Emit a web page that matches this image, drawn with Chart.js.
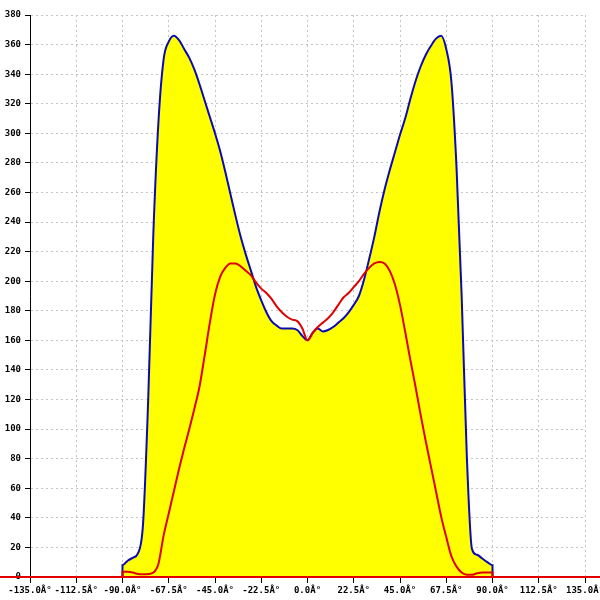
<!DOCTYPE html>
<html>
<head>
<meta charset="utf-8">
<script src="https://cdn.jsdelivr.net/npm/chart.js@4.4.1/dist/chart.umd.min.js"></script>
<style>
  html, body { margin: 0; padding: 0; background: #fff; }
</style>
</head>
<body>
<canvas id="myChart" width="600" height="600"></canvas>
<script>
// angles (degrees); -90 and 90 appear twice for the vertical edges
const angles = [-135, -90,
  -90, -87.5, -85, -82.5, -80, -77.5, -75, -72.5, -70, -67.5, -65, -62.5,
  -60, -57.5, -55, -52.5, -50, -47.5, -45, -42.5, -40, -37.5, -35, -32.5,
  -30, -27.5, -25, -22.5, -20, -17.5, -15, -12.5, -10, -7.5, -5, -2.5,
  0, 2.5, 5, 7.5, 10, 12.5, 15, 17.5, 20, 22.5, 25, 27.5,
  30, 32.5, 35, 37.5, 40, 42.5, 45, 47.5, 50, 52.5, 55, 57.5,
  60, 62.5, 65, 67.5, 70, 72.5, 75, 77.5, 80, 82.5, 85, 87.5, 90,
  90, 135];

const blueValues = [0, 0,
  8, 11, 13, 16, 36, 120, 232, 308, 350, 362, 366, 363,
  357, 351, 343, 333, 322, 311, 300, 288, 274, 259, 244, 230,
  218, 207, 196, 187, 179, 173, 170, 168, 168, 168, 167, 163,
  160, 165, 168, 166, 167, 169, 172, 175, 179, 184, 190, 201,
  215, 230, 247, 262, 275, 287, 299, 310, 323, 335, 345, 353,
  359, 364, 366, 357, 335, 277, 190, 82, 19, 15, 12.5, 10, 8,
  0, 0];

const redValues = [0, 0,
  3.5, 3.5, 3, 2, 1.8, 2, 3, 9, 28, 43, 58, 73,
  87, 100, 114, 129, 150, 172, 191, 203, 209, 212, 212, 210,
  207, 204, 199, 195, 192, 188, 183, 179, 176, 174, 173, 168,
  160, 165, 169, 172, 175, 179, 184, 189, 192, 196, 200, 205,
  209, 212, 213, 212, 207, 198, 184, 166, 147, 129, 110, 92,
  75, 58, 41, 27, 14, 7, 3, 1.5, 1.5, 2.5, 3, 3, 3,
  0, 0];

const xTickValues = [-135, -112.5, -90, -67.5, -45, -22.5, 0, 22.5, 45, 67.5, 90, 112.5, 135];

const toPoints = (vals) => vals.map((v, i) => ({ x: angles[i], y: v }));

// red baseline across the whole width, over the axis labels
const baseline = {
  id: 'baseline',
  afterDraw(chart) {
    const ctx = chart.ctx;
    const y0 = chart.scales.y.getPixelForValue(0);
    ctx.save();
    ctx.strokeStyle = '#e00000';
    ctx.lineWidth = 2;
    ctx.beginPath();
    ctx.moveTo(0, y0);
    ctx.lineTo(chart.width, y0);
    ctx.stroke();
    ctx.restore();
  }
};

Chart.defaults.font.family = 'DejaVu Sans Mono';
Chart.defaults.font.size = 9;
Chart.defaults.font.weight = 'bold';
Chart.defaults.color = '#000';

const ctx = document.getElementById('myChart').getContext('2d');
new Chart(ctx, {
  type: 'line',
  data: {
    datasets: [
      {
        data: toPoints(redValues),
        borderColor: '#e00000',
        borderWidth: 2,
        pointRadius: 0,
        fill: false,
        cubicInterpolationMode: 'monotone'
      },
      {
        data: toPoints(blueValues),
        borderColor: '#0a0ab4',
        backgroundColor: '#ffff00',
        borderWidth: 2,
        pointRadius: 0,
        fill: 'origin',
        cubicInterpolationMode: 'monotone'
      }
    ]
  },
  options: {
    responsive: false,
    animation: false,
    devicePixelRatio: 1,
    layout: { padding: { top: 15, right: 15, left: 0, bottom: 0 } },
    plugins: {
      legend: { display: false },
      tooltip: { enabled: false }
    },
    scales: {
      x: {
        type: 'linear',
        min: -135,
        max: 135,
        afterBuildTicks(scale) {
          scale.ticks = xTickValues.map(v => ({ value: v }));
        },
        afterFit(scale) {
          scale.height = 23;
          scale.paddingLeft = 0;
          scale.paddingRight = 0;
        },
        ticks: {
          autoSkip: false,
          maxRotation: 0,
          padding: 2,
          callback: (v) => v.toFixed(1) + 'Â°'
        },
        grid: {
          color: '#c4c4c4',
          tickColor: '#000',
          tickLength: 6,
          tickBorderDash: []
        },
        border: { display: true, color: '#e00000', width: 2, dash: [2, 3] }
      },
      y: {
        min: 0,
        max: 380,
        afterFit(scale) {
          scale.width = 30;
          scale.paddingTop = 0;
          scale.paddingBottom = 0;
        },
        ticks: { stepSize: 20, padding: 4 },
        grid: {
          color: '#c4c4c4',
          tickColor: '#000',
          tickLength: 5,
          tickBorderDash: []
        },
        border: { display: true, color: '#000', width: 1, dash: [2, 3] }
      }
    }
  },
  plugins: [baseline]
});
</script>
</body>
</html>
